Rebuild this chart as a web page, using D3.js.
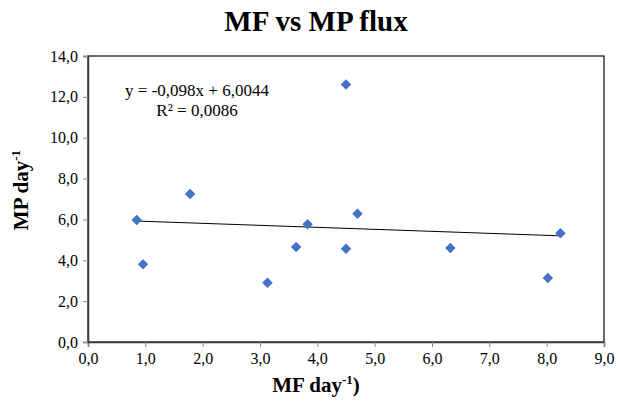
<!DOCTYPE html>
<html>
<head>
<meta charset="utf-8">
<script src="https://cdn.jsdelivr.net/npm/d3@7"></script>
<style>
  body { margin: 0; background: #fff; }
  svg text { font-family: "Liberation Serif", "DejaVu Serif", serif !important; }
</style>
</head>
<body>
<div id="chart"></div>
<script>
// MF flux (x) and MP flux (y) per day
var mfValues = [0.85, 0.96, 1.78, 3.13, 3.63, 3.83, 4.50, 4.50, 4.70, 6.32, 8.02, 8.24];
var mpValues = [5.97, 3.80, 7.24, 2.90, 4.65, 5.76, 12.61, 4.57, 6.28, 4.60, 3.13, 5.32];
var xTicks = [0, 1, 2, 3, 4, 5, 6, 7, 8, 9];
var yTicks = [0, 2, 4, 6, 8, 10, 12, 14];
var trendSlope = -0.098;
var trendIntercept = 6.0044;
var eqLines = ["y = -0,098x + 6,0044", "R² = 0,0086"];

var render = function() {
  let width = 618, height = 402;
  let margin = { top: 56, right: 14, bottom: 60, left: 88 };
  let serif = "'Liberation Serif', 'DejaVu Serif', serif";

  let svg = d3.select("#chart")
    .append("svg")
    .attr("width", width)
    .attr("height", height)
    .attr("font-family", serif);

  let xScale = d3.scaleLinear()
    .domain([0, 9])
    .range([margin.left, width - margin.right]);

  let yScale = d3.scaleLinear()
    .domain([0, 14])
    .range([height - margin.bottom, margin.top]);

  let fmt = function(d) { return d3.format(".1f")(d).replace(".", ","); };

  // plot area border
  svg.append("rect")
    .attr("x", xScale(0))
    .attr("y", yScale(14))
    .attr("width", xScale(9) - xScale(0))
    .attr("height", yScale(0) - yScale(14))
    .attr("fill", "none")
    .attr("stroke", "#3a3a3a")
    .attr("stroke-width", 1.5);

  let xAxis = svg.append("g")
    .attr("transform", "translate(0," + yScale(0) + ")")
    .call(d3.axisBottom(xScale).tickValues(xTicks).tickFormat(fmt).tickSize(5).tickPadding(6));

  let yAxis = svg.append("g")
    .attr("transform", "translate(" + xScale(0) + ",0)")
    .call(d3.axisLeft(yScale).tickValues(yTicks).tickFormat(fmt).tickSize(5).tickPadding(5));

  [xAxis, yAxis].forEach(function(ax) {
    ax.attr("font-family", serif).attr("font-size", 16);
    ax.select(".domain").attr("stroke", "#3a3a3a").attr("stroke-width", 1.5);
    ax.selectAll(".tick line").attr("stroke", "#8a8a8a");
    ax.selectAll(".tick text").attr("fill", "#000");
  });

  // trendline
  let xMin = d3.min(mfValues), xMax = d3.max(mfValues);
  svg.append("line")
    .attr("x1", xScale(xMin))
    .attr("y1", yScale(trendSlope * xMin + trendIntercept))
    .attr("x2", xScale(xMax))
    .attr("y2", yScale(trendSlope * xMax + trendIntercept))
    .attr("stroke", "#000")
    .attr("stroke-width", 1);

  // points
  let pts = mfValues.map(function(d, i) { return { x: d, y: mpValues[i] }; });
  svg.selectAll(".pt")
    .data(pts)
    .enter()
    .append("path")
    .attr("class", "pt")
    .attr("d", d3.symbol().type(d3.symbolDiamond2).size(70))
    .attr("transform", (d) => "translate(" + xScale(d.x) + "," + yScale(d.y) + ")")
    .attr("fill", "#4472C4");

  // equation
  svg.append("g").selectAll("text")
    .data(eqLines)
    .enter()
    .append("text")
    .attr("x", 197)
    .attr("y", (d, i) => 96 + i * 20)
    .attr("text-anchor", "middle")
    .style("font-size", "17px")
    .text((d) => d);

  // title
  svg.append("text")
    .attr("x", 316)
    .attr("y", 31)
    .attr("text-anchor", "middle")
    .style("font-size", "29px")
    .style("font-weight", "bold")
    .text("MF vs MP flux");

  // x label
  let xl = svg.append("text")
    .attr("x", 316)
    .attr("y", 392)
    .attr("text-anchor", "middle")
    .style("font-size", "21px")
    .style("font-weight", "bold");
  xl.append("tspan").text("MF day");
  xl.append("tspan").attr("dy", -8).style("font-size", "13px").text("-1");
  xl.append("tspan").attr("dy", 8).text(")");

  // y label
  let yl = svg.append("text")
    .attr("transform", "translate(28,190) rotate(-90)")
    .attr("text-anchor", "middle")
    .style("font-size", "21px")
    .style("font-weight", "bold");
  yl.append("tspan").text("MP day");
  yl.append("tspan").attr("dy", -8).style("font-size", "13px").text("-1");
};

render();
</script>
</body>
</html>
